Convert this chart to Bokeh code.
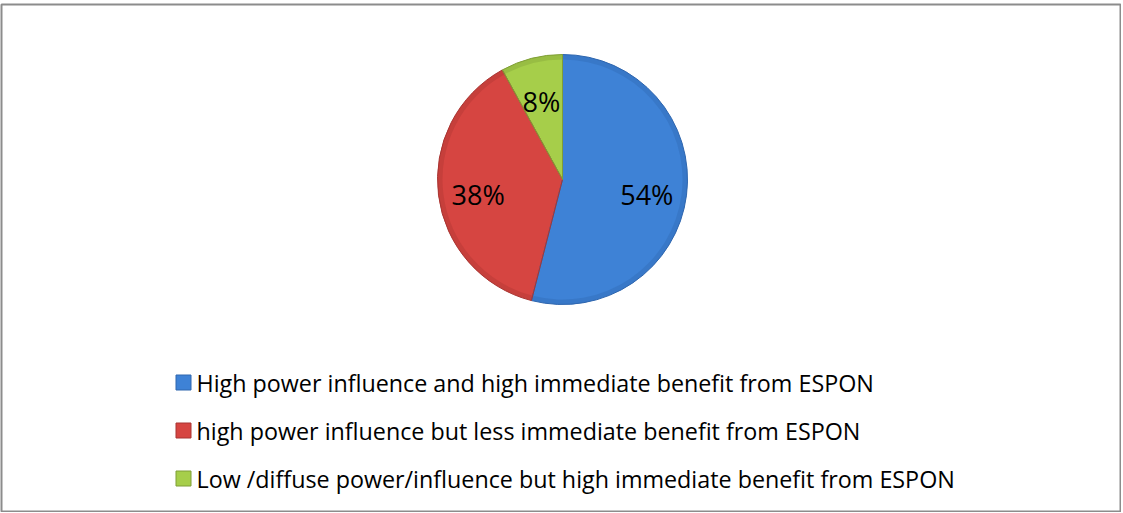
import math
from bokeh.plotting import figure
from bokeh.models import Range1d, ColumnDataSource
from bokeh.core.properties import value
from bokeh.embed import file_html
from bokeh.resources import INLINE

categories = [
    "High power influence and high immediate benefit from ESPON",
    "high power influence but less immediate benefit from ESPON",
    "Low /diffuse power/influence but high immediate benefit from ESPON",
]
shares = [54, 38, 8]
pct_labels = ["54%", "38%", "8%"]
colors = ["#3E82D6", "#D64541", "#A6CE4A"]
edge_colors = ["#2F66AE", "#A83532", "#7F9E36"]

PH = 513  # page height used for the coordinate mapping
p = figure(frame_width=1119, frame_height=507, output_backend="svg",
           toolbar_location=None,
           x_range=Range1d(1, 1120), y_range=Range1d(PH - 511, PH - 4),
           min_border_left=1, min_border_top=4, min_border_right=1,
           min_border_bottom=1)
p.axis.visible = False
p.grid.visible = False
p.outline_line_color = "#8C8C8C"
p.outline_line_width = 2
p.background_fill_color = "white"
p.border_fill_color = "white"

cx, cy, R = 562, PH - 179, 125
total = sum(shares)
starts, ends, lx, ly = [], [], [], []
acc = 0.0
for s in shares:
    a0 = math.pi / 2 - 2 * math.pi * acc / total
    acc += s
    a1 = math.pi / 2 - 2 * math.pi * acc / total
    starts.append(a0)
    ends.append(a1)
    mid = (a0 + a1) / 2
    lx.append(cx + 0.68 * R * math.cos(mid))
    ly.append(cy + 0.68 * R * math.sin(mid) - 4)

src = ColumnDataSource(dict(x=[cx] * 3, y=[cy] * 3, start=starts, end=ends,
                            color=colors, edge=edge_colors, lx=lx, ly=ly,
                            lab=pct_labels))
p.wedge(x="x", y="y", radius=R, radius_units="screen", start_angle="start",
        end_angle="end", direction="clock", fill_color="color",
        line_color=None, source=src)
# subtle bevel rim
p.annular_wedge(x="x", y="y", inner_radius=R - 5, outer_radius=R,
                inner_radius_units="screen", outer_radius_units="screen",
                start_angle="start", end_angle="end", direction="clock",
                fill_color="edge", fill_alpha=0.35, line_color=None, source=src)
p.wedge(x="x", y="y", radius=R, radius_units="screen", start_angle="start",
        end_angle="end", direction="clock", fill_color=None,
        line_color="edge", line_width=1, source=src)
p.text(x="lx", y="ly", text="lab", source=src, text_font=value("Open Sans"),
       text_font_size="27px", text_align="center", text_baseline="middle",
       text_color="black")

# legend
rows_y = [PH - 382, PH - 430, PH - 478]
leg = ColumnDataSource(dict(x=[183] * 3, y=rows_y, tx=[196] * 3, color=colors,
                            edge=edge_colors, label=categories))
p.rect(x="x", y="y", width=15, height=15, width_units="screen",
       height_units="screen", fill_color="color", line_color="edge", source=leg)
p.text(x="tx", y="y", text="label", source=leg, text_font=value("Open Sans"),
       text_font_size="23.3px", text_align="left", text_baseline="middle",
       text_color="black")

open("out.html", "w").write(file_html(p, INLINE))
